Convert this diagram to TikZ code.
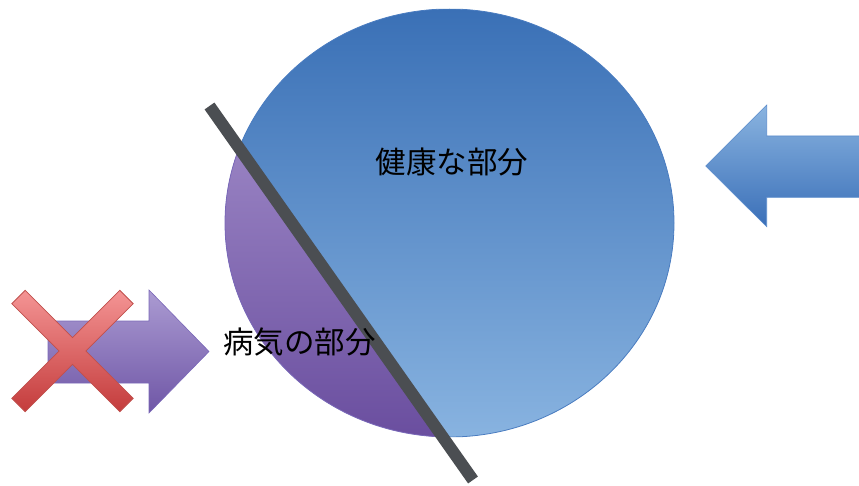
\documentclass[tikz,border=0pt]{standalone}
\usepackage{fontspec}
\newfontfamily\jp{Noto Sans CJK JP}
\definecolor{bluetop}{HTML}{3A70B6}
\definecolor{bluebot}{HTML}{88B3E0}
\definecolor{blueedge}{HTML}{4A7CC0}
\definecolor{purtop}{HTML}{AE9BD3}
\definecolor{purbot}{HTML}{6A4E9F}
\definecolor{aptop}{HTML}{AB9BD2}
\definecolor{apbot}{HTML}{6F56A6}
\definecolor{apedge}{HTML}{7A68B8}
\definecolor{abtop}{HTML}{8AB4E0}
\definecolor{abbot}{HTML}{3A6FB8}
\definecolor{abedge}{HTML}{5B8CCC}
\definecolor{xtop}{HTML}{F49494}
\definecolor{xbot}{HTML}{C43C3C}
\definecolor{xedge}{HTML}{C0504D}
\definecolor{divider}{HTML}{4B4E52}
\tikzset{
  lab/.style={font=\jp\fontsize{30.5}{30.5}\selectfont, text=black, inner sep=0pt},
  divline/.style={draw=divider, line width=12pt, line cap=butt},
}
\begin{document}
\begin{tikzpicture}[x=1pt,y=-1pt]
\useasboundingbox (0,0) rectangle (859,486);
% blue circle
\path[top color=bluetop, bottom color=bluebot]
  (449.5,223) ellipse [x radius=224.5, y radius=214];
% purple part
\begin{scope}
  \clip (449.5,223) ellipse [x radius=224.5, y radius=214];
  \path[top color=purtop, bottom color=purbot]
    (141.2,9) -- (442.7,437) -- (200,437) -- (200,9) -- cycle;
\end{scope}
\begin{scope}
  \clip (141.2,9) -- (442.7,437) -- (200,437) -- (200,9) -- cycle;
  \draw[apedge, line width=0.8pt] (449.5,223) ellipse [x radius=224.5, y radius=214];
\end{scope}
\begin{scope}
  \clip (141.2,9) -- (442.7,437) -- (700,437) -- (700,9) -- cycle;
  \draw[blueedge, line width=0.8pt] (449.5,223) ellipse [x radius=224.5, y radius=214];
\end{scope}
% divider
\coordinate (d1) at (209.5,106);
\coordinate (d2) at (473,480);
\draw[divline] (d1) -- (d2);
% blue arrow (pointing left)
\path[top color=abtop, bottom color=abbot, draw=abedge, line width=0.6pt]
  (860,136) -- (766.7,136) -- (766.7,105) -- (705.7,166) -- (766.7,226.7)
  -- (766.7,197.3) -- (860,197.3);
% purple arrow (pointing right)
\path[top color=aptop, bottom color=apbot, draw=apedge, line width=0.6pt]
  (48,321) -- (149,321) -- (149,290) -- (209,351.5) -- (149,413) -- (149,383)
  -- (48,383) -- cycle;
% red cross
\path[top color=xtop, bottom color=xbot, draw=xedge, line width=0.8pt]
  (72.5,337.6) -- (119.8,290.3) -- (133.2,303.7) -- (85.9,351)
  -- (133.2,398.3) -- (119.8,411.7) -- (72.5,364.4)
  -- (25.2,411.7) -- (11.8,398.3) -- (59.1,351)
  -- (11.8,303.7) -- (25.2,290.3) -- cycle;
% labels
\node[lab] (healthy) at (452,161.5) {健康な部分};
\node[lab] (sick) at (299.5,342.5) {病気の部分};
\end{tikzpicture}
\end{document}
